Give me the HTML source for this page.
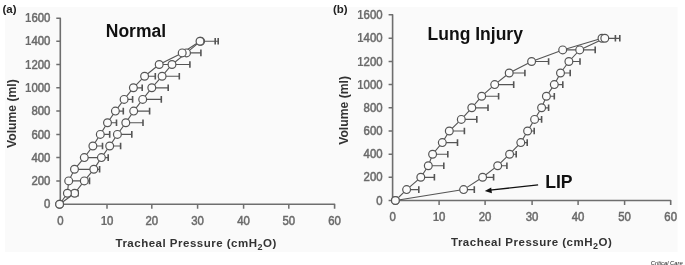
<!DOCTYPE html>
<html><head><meta charset="utf-8"><style>
html,body{margin:0;padding:0;background:#fff;}
body{width:685px;height:265px;overflow:hidden;}
svg{display:block;filter:blur(0.45px);}
text{font-family:"Liberation Sans", sans-serif;}
.tk{font-size:12px;font-weight:normal;fill:#6a6a6a;stroke:#6a6a6a;stroke-width:0.5px;}
.ttl{font-size:17.5px;font-weight:bold;fill:#111;}
.let{font-size:11.5px;font-weight:bold;fill:#222;}
.axt{font-size:11.5px;font-weight:bold;fill:#333;letter-spacing:0.5px;}
.sub{font-size:9px;}
.b1{font-weight:bold;stroke-width:0;}
.yt{letter-spacing:0;font-size:12.2px;}
.lip{font-size:17.6px;}
.cc{font-size:5.8px;font-style:italic;fill:#222;}
circle{fill:#fbfbfb;stroke:#555;stroke-width:1.2;}
</style></head><body>
<svg width="685" height="265" viewBox="0 0 685 265">
<rect x="0" y="0" width="685" height="265" fill="#fff"/>
<rect x="5" y="7" width="672.5" height="245" fill="#fafafa"/>
<path d="M56.3 18.2H60.3V204.2H334.6V208.8" fill="none" stroke="#6e6e6e" stroke-width="1.6" stroke-linejoin="round"/>
<path d="M56.3 204.2H60.3M56.3 180.9H60.3M56.3 157.6H60.3M56.3 134.4H60.3M56.3 111.1H60.3M56.3 87.8H60.3M56.3 64.5H60.3M56.3 41.2H60.3M107.0 204.2V208.8M151.8 204.2V208.8M197.6 204.2V208.8M243.6 204.2V208.8M288.8 204.2V208.8" stroke="#6e6e6e" stroke-width="1.5"/>
<text transform="translate(50.4 208.3) scale(0.95 1)" text-anchor="end" class="tk">0</text>
<text transform="translate(50.4 185.0) scale(0.95 1)" text-anchor="end" class="tk">200</text>
<text transform="translate(50.4 161.7) scale(0.95 1)" text-anchor="end" class="tk">400</text>
<text transform="translate(50.4 138.5) scale(0.95 1)" text-anchor="end" class="tk">600</text>
<text transform="translate(50.4 115.2) scale(0.95 1)" text-anchor="end" class="tk">800</text>
<text transform="translate(50.4 91.9) scale(0.95 1)" text-anchor="end" class="tk"><tspan class="b1">1</tspan>000</text>
<text transform="translate(50.4 68.6) scale(0.95 1)" text-anchor="end" class="tk"><tspan class="b1">1</tspan>200</text>
<text transform="translate(50.4 45.3) scale(0.95 1)" text-anchor="end" class="tk"><tspan class="b1">1</tspan>400</text>
<text transform="translate(50.4 22.1) scale(0.95 1)" text-anchor="end" class="tk"><tspan class="b1">1</tspan>600</text>
<text transform="translate(60.5 225.2) scale(0.95 1)" text-anchor="middle" class="tk">0</text>
<text transform="translate(107.0 225.2) scale(0.95 1)" text-anchor="middle" class="tk"><tspan class="b1">1</tspan>0</text>
<text transform="translate(151.8 225.2) scale(0.95 1)" text-anchor="middle" class="tk">20</text>
<text transform="translate(197.6 225.2) scale(0.95 1)" text-anchor="middle" class="tk">30</text>
<text transform="translate(243.6 225.2) scale(0.95 1)" text-anchor="middle" class="tk">40</text>
<text transform="translate(288.8 225.2) scale(0.95 1)" text-anchor="middle" class="tk">50</text>
<text transform="translate(334.6 225.2) scale(0.95 1)" text-anchor="middle" class="tk">60</text>
<text x="105.8" y="36.8" class="ttl">Normal</text>
<text x="2.5" y="12.8" class="let">(a)</text>
<text transform="translate(16.4 113.6) rotate(-90)" text-anchor="middle" class="axt yt">Volume (ml)</text>
<text x="115.5" y="246.8" class="axt">Tracheal Pressure (cmH<tspan class="sub" dy="3">2</tspan><tspan dy="-3">O)</tspan></text>
<polyline points="59.6,204.2 67.4,193.3 68.7,180.9 74.5,169.3 84.3,157.6 92.9,146.0 100.3,134.4 107.5,122.7 115.4,111.1 124.1,99.4 133.4,87.8 144.6,76.2 159.2,64.5 182.2,52.9 200.0,41.2" fill="none" stroke="#555" stroke-width="1.1"/>
<polyline points="59.6,204.2 74.6,193.3 84.3,180.9 93.8,169.3 101.4,157.6 109.7,146.0 117.4,134.4 125.8,122.7 133.7,111.1 142.7,99.4 151.8,87.8 162.1,76.2 172.0,64.5 186.5,52.9 200.6,41.2" fill="none" stroke="#555" stroke-width="1.1"/>
<path d="M68.7 180.9H84.0M74.5 169.3H93.0M84.3 157.6H100.0M92.9 146.0H102.5M100.3 134.4H109.7M107.5 122.7H116.5M115.4 111.1H123.3M124.1 99.4H132.6M133.4 87.8H142.2M144.6 76.2H155.3M159.2 64.5H170.0M182.2 52.9H186.0M200.0 41.2H215.2M74.6 193.3H78.0M84.3 180.9H89.5M93.8 169.3H99.6M101.4 157.6H108.2M109.7 146.0H120.6M117.4 134.4H131.8M125.8 122.7H143.0M133.7 111.1H149.6M142.7 99.4H161.3M151.8 87.8H168.2M162.1 76.2H179.3M172.0 64.5H189.9M186.5 52.9H200.9M200.6 41.2H218.2" fill="none" stroke="#555" stroke-width="1.15"/>
<path d="M84.0 177.6V184.2M93.0 166.0V172.6M100.0 154.3V160.9M102.5 142.7V149.3M109.7 131.1V137.7M116.5 119.4V126.0M123.3 107.8V114.4M132.6 96.1V102.7M142.2 84.5V91.1M155.3 72.9V79.5M170.0 61.2V67.8M186.0 49.6V56.2M215.2 37.9V44.5M78.0 190.0V196.6M89.5 177.6V184.2M99.6 166.0V172.6M108.2 154.3V160.9M120.6 142.7V149.3M131.8 131.1V137.7M143.0 119.4V126.0M149.6 107.8V114.4M161.3 96.1V102.7M168.2 84.5V91.1M179.3 72.9V79.5M189.9 61.2V67.8M200.9 49.6V56.2M218.2 37.9V44.5" fill="none" stroke="#555" stroke-width="1.6"/>
<circle cx="59.6" cy="204.2" r="3.9"/>
<circle cx="74.6" cy="193.3" r="3.9"/>
<circle cx="84.3" cy="180.9" r="3.9"/>
<circle cx="93.8" cy="169.3" r="3.9"/>
<circle cx="101.4" cy="157.6" r="3.9"/>
<circle cx="109.7" cy="146.0" r="3.9"/>
<circle cx="117.4" cy="134.4" r="3.9"/>
<circle cx="125.8" cy="122.7" r="3.9"/>
<circle cx="133.7" cy="111.1" r="3.9"/>
<circle cx="142.7" cy="99.4" r="3.9"/>
<circle cx="151.8" cy="87.8" r="3.9"/>
<circle cx="162.1" cy="76.2" r="3.9"/>
<circle cx="172.0" cy="64.5" r="3.9"/>
<circle cx="186.5" cy="52.9" r="3.9"/>
<circle cx="200.6" cy="41.2" r="3.9"/>
<circle cx="59.6" cy="204.2" r="3.9"/>
<circle cx="67.4" cy="193.3" r="3.9"/>
<circle cx="68.7" cy="180.9" r="3.9"/>
<circle cx="74.5" cy="169.3" r="3.9"/>
<circle cx="84.3" cy="157.6" r="3.9"/>
<circle cx="92.9" cy="146.0" r="3.9"/>
<circle cx="100.3" cy="134.4" r="3.9"/>
<circle cx="107.5" cy="122.7" r="3.9"/>
<circle cx="115.4" cy="111.1" r="3.9"/>
<circle cx="124.1" cy="99.4" r="3.9"/>
<circle cx="133.4" cy="87.8" r="3.9"/>
<circle cx="144.6" cy="76.2" r="3.9"/>
<circle cx="159.2" cy="64.5" r="3.9"/>
<circle cx="182.2" cy="52.9" r="3.9"/>
<circle cx="200.0" cy="41.2" r="3.9"/>
<path d="M388.6 14.8H392.6V200.5H670.7V205.1" fill="none" stroke="#6e6e6e" stroke-width="1.6" stroke-linejoin="round"/>
<path d="M388.6 200.5H392.6M388.6 177.3H392.6M388.6 154.2H392.6M388.6 131.0H392.6M388.6 107.8H392.6M388.6 84.6H392.6M388.6 61.5H392.6M388.6 38.3H392.6M439.1 200.5V205.1M485.1 200.5V205.1M532.1 200.5V205.1M578.1 200.5V205.1M624.6 200.5V205.1" stroke="#6e6e6e" stroke-width="1.5"/>
<text transform="translate(382.6 204.6) scale(0.95 1)" text-anchor="end" class="tk">0</text>
<text transform="translate(382.6 181.4) scale(0.95 1)" text-anchor="end" class="tk">200</text>
<text transform="translate(382.6 158.3) scale(0.95 1)" text-anchor="end" class="tk">400</text>
<text transform="translate(382.6 135.1) scale(0.95 1)" text-anchor="end" class="tk">600</text>
<text transform="translate(382.6 111.9) scale(0.95 1)" text-anchor="end" class="tk">800</text>
<text transform="translate(382.6 88.7) scale(0.95 1)" text-anchor="end" class="tk"><tspan class="b1">1</tspan>000</text>
<text transform="translate(382.6 65.6) scale(0.95 1)" text-anchor="end" class="tk"><tspan class="b1">1</tspan>200</text>
<text transform="translate(382.6 42.4) scale(0.95 1)" text-anchor="end" class="tk"><tspan class="b1">1</tspan>400</text>
<text transform="translate(382.6 19.2) scale(0.95 1)" text-anchor="end" class="tk"><tspan class="b1">1</tspan>600</text>
<text transform="translate(392.7 221.2) scale(0.95 1)" text-anchor="middle" class="tk">0</text>
<text transform="translate(439.1 221.2) scale(0.95 1)" text-anchor="middle" class="tk"><tspan class="b1">1</tspan>0</text>
<text transform="translate(485.1 221.2) scale(0.95 1)" text-anchor="middle" class="tk">20</text>
<text transform="translate(532.1 221.2) scale(0.95 1)" text-anchor="middle" class="tk">30</text>
<text transform="translate(578.1 221.2) scale(0.95 1)" text-anchor="middle" class="tk">40</text>
<text transform="translate(624.6 221.2) scale(0.95 1)" text-anchor="middle" class="tk">50</text>
<text transform="translate(670.7 221.2) scale(0.95 1)" text-anchor="middle" class="tk">60</text>
<text x="427.6" y="40.3" class="ttl">Lung Injury</text>
<text x="332.9" y="13.0" class="let">(b)</text>
<text transform="translate(348.1 110.4) rotate(-90)" text-anchor="middle" class="axt yt">Volume (ml)</text>
<text x="451.0" y="246.3" class="axt">Tracheal Pressure (cmH<tspan class="sub" dy="3">2</tspan><tspan dy="-3">O)</tspan></text>
<polyline points="395.4,200.5 406.6,189.6 420.8,177.3 428.3,165.7 432.6,154.2 442.3,142.6 449.3,131.0 461.3,119.4 471.8,107.8 481.7,96.2 494.7,84.6 509.2,73.0 531.6,61.5 562.7,49.9 602.0,38.3" fill="none" stroke="#555" stroke-width="1.1"/>
<polyline points="395.4,200.5 463.6,189.6 482.6,177.3 497.7,165.7 509.6,154.2 520.8,142.6 527.6,131.0 534.6,119.4 541.6,107.8 546.4,96.2 554.3,84.6 560.5,73.0 568.9,61.5 579.7,49.9 604.8,38.3" fill="none" stroke="#555" stroke-width="1.1"/>
<path d="M406.6 189.6H418.8M420.8 177.3H434.4M428.3 165.7H443.8M432.6 154.2H447.8M442.3 142.6H457.5M449.3 131.0H464.4M461.3 119.4H476.8M471.8 107.8H488.0M481.7 96.2H498.6M494.7 84.6H513.7M509.2 73.0H524.9M531.6 61.5H548.6M562.7 49.9H578.0M602.0 38.3H615.4M463.6 189.6H474.3M482.6 177.3H493.6M497.7 165.7H506.9M509.6 154.2H516.2M520.8 142.6H527.2M527.6 131.0H534.2M534.6 119.4H541.6M541.6 107.8H548.6M546.4 96.2H554.3M554.3 84.6H562.8M560.5 73.0H570.2M568.9 61.5H580.0M579.7 49.9H595.2M604.8 38.3H619.8" fill="none" stroke="#555" stroke-width="1.15"/>
<path d="M418.8 186.3V192.9M434.4 174.0V180.6M443.8 162.4V169.0M447.8 150.9V157.5M457.5 139.3V145.9M464.4 127.7V134.3M476.8 116.1V122.7M488.0 104.5V111.1M498.6 92.9V99.5M513.7 81.3V87.9M524.9 69.7V76.3M548.6 58.2V64.8M578.0 46.6V53.2M615.4 35.0V41.6M474.3 186.3V192.9M493.6 174.0V180.6M506.9 162.4V169.0M516.2 150.9V157.5M527.2 139.3V145.9M534.2 127.7V134.3M541.6 116.1V122.7M548.6 104.5V111.1M554.3 92.9V99.5M562.8 81.3V87.9M570.2 69.7V76.3M580.0 58.2V64.8M595.2 46.6V53.2M619.8 35.0V41.6" fill="none" stroke="#555" stroke-width="1.6"/>
<circle cx="395.4" cy="200.5" r="3.9"/>
<circle cx="406.6" cy="189.6" r="3.9"/>
<circle cx="420.8" cy="177.3" r="3.9"/>
<circle cx="428.3" cy="165.7" r="3.9"/>
<circle cx="432.6" cy="154.2" r="3.9"/>
<circle cx="442.3" cy="142.6" r="3.9"/>
<circle cx="449.3" cy="131.0" r="3.9"/>
<circle cx="461.3" cy="119.4" r="3.9"/>
<circle cx="471.8" cy="107.8" r="3.9"/>
<circle cx="481.7" cy="96.2" r="3.9"/>
<circle cx="494.7" cy="84.6" r="3.9"/>
<circle cx="509.2" cy="73.0" r="3.9"/>
<circle cx="531.6" cy="61.5" r="3.9"/>
<circle cx="562.7" cy="49.9" r="3.9"/>
<circle cx="602.0" cy="38.3" r="3.9"/>
<circle cx="395.4" cy="200.5" r="3.9"/>
<circle cx="463.6" cy="189.6" r="3.9"/>
<circle cx="482.6" cy="177.3" r="3.9"/>
<circle cx="497.7" cy="165.7" r="3.9"/>
<circle cx="509.6" cy="154.2" r="3.9"/>
<circle cx="520.8" cy="142.6" r="3.9"/>
<circle cx="527.6" cy="131.0" r="3.9"/>
<circle cx="534.6" cy="119.4" r="3.9"/>
<circle cx="541.6" cy="107.8" r="3.9"/>
<circle cx="546.4" cy="96.2" r="3.9"/>
<circle cx="554.3" cy="84.6" r="3.9"/>
<circle cx="560.5" cy="73.0" r="3.9"/>
<circle cx="568.9" cy="61.5" r="3.9"/>
<circle cx="579.7" cy="49.9" r="3.9"/>
<circle cx="604.8" cy="38.3" r="3.9"/>
<path d="M538.1 184.8L490 190.2" stroke="#111" stroke-width="1.3"/>
<path d="M484.8 190.9L491.2 187.4L491.9 193.2Z" fill="#111"/>
<text x="545.2" y="188.0" class="ttl lip">LIP</text>
<text x="650.8" y="264.7" class="cc">Critical Care</text>
</svg>
</body></html>
